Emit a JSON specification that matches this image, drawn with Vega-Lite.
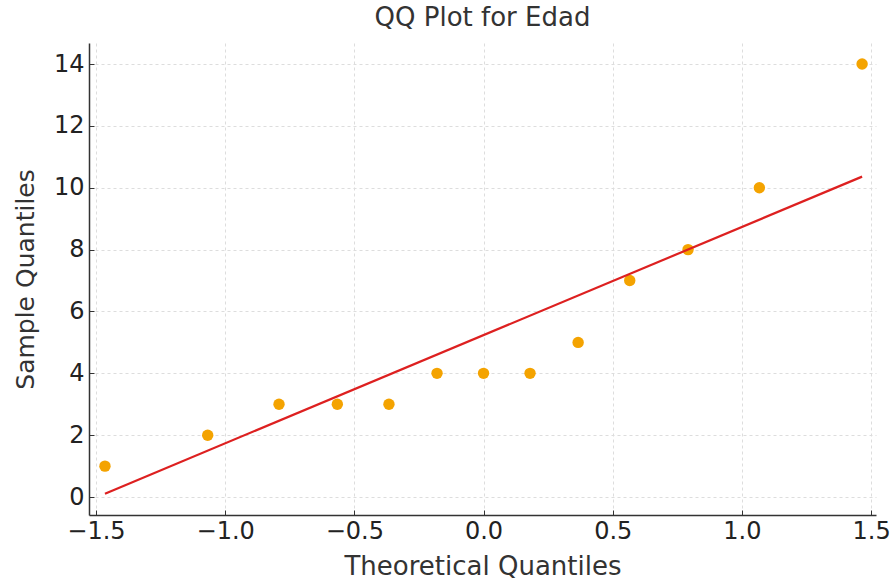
{
  "$schema": "https://vega.github.io/schema/vega-lite/v6.json",
  "width": 787,
  "height": 472,
  "autosize": {"type": "none"},
  "padding": {"left": 89, "top": 43, "right": 15, "bottom": 65},
  "background": "white",
  "title": {"text": "QQ Plot for Edad", "font": "DejaVu Sans", "fontSize": 26, "fontWeight": "normal", "color": "#333333", "offset": 12, "anchor": "middle"},
  "config": {
    "view": {"stroke": null},
    "axis": {
      "labelFont": "DejaVu Sans", "labelFontSize": 24, "labelColor": "#222222",
      "titleFont": "DejaVu Sans", "titleFontSize": 25, "titleFontWeight": "normal", "titleColor": "#333333",
      "domainColor": "#333333", "domainWidth": 1.5,
      "tickColor": "#333333", "tickSize": -5, "tickWidth": 1,
      "gridColor": "#dddddd", "gridDash": [3, 3], "gridWidth": 1
    }
  },
  "datasets": {
    "points": [
      {"theoretical": -1.4652, "sample": 1},
      {"theoretical": -1.0676, "sample": 2},
      {"theoretical": -0.7916, "sample": 3},
      {"theoretical": -0.5659, "sample": 3},
      {"theoretical": -0.3661, "sample": 3},
      {"theoretical": -0.18, "sample": 4},
      {"theoretical": 0.0, "sample": 4},
      {"theoretical": 0.18, "sample": 4},
      {"theoretical": 0.3661, "sample": 5},
      {"theoretical": 0.5659, "sample": 7},
      {"theoretical": 0.7916, "sample": 8},
      {"theoretical": 1.0676, "sample": 10},
      {"theoretical": 1.4652, "sample": 14}
    ],
    "fit": [
      {"theoretical": -1.4652, "sample": 0.11},
      {"theoretical": 1.4652, "sample": 10.36}
    ]
  },
  "layer": [
    {
      "data": {"name": "points"},
      "mark": {"type": "point", "filled": true, "size": 130, "color": "#f4a300", "opacity": 1},
      "encoding": {
        "x": {"field": "theoretical", "type": "quantitative", "title": "Theoretical Quantiles",
              "scale": {"domain": [-1.527, 1.519], "nice": false, "zero": false},
              "axis": {"values": [-1.5, -1.0, -0.5, 0.0, 0.5, 1.0, 1.5], "format": ".1f", "labelPadding": 9, "titlePadding": 10, "titleFontSize": 26}},
        "y": {"field": "sample", "type": "quantitative", "title": "Sample Quantiles",
              "scale": {"domain": [-0.58, 14.68], "nice": false, "zero": false},
              "axis": {"values": [0, 2, 4, 6, 8, 10, 12, 14], "labelPadding": 10, "titlePadding": 15}}
      }
    },
    {
      "data": {"name": "fit"},
      "mark": {"type": "line", "color": "#dd2020", "strokeWidth": 2.2},
      "encoding": {
        "x": {"field": "theoretical", "type": "quantitative"},
        "y": {"field": "sample", "type": "quantitative"}
      }
    }
  ]
}
